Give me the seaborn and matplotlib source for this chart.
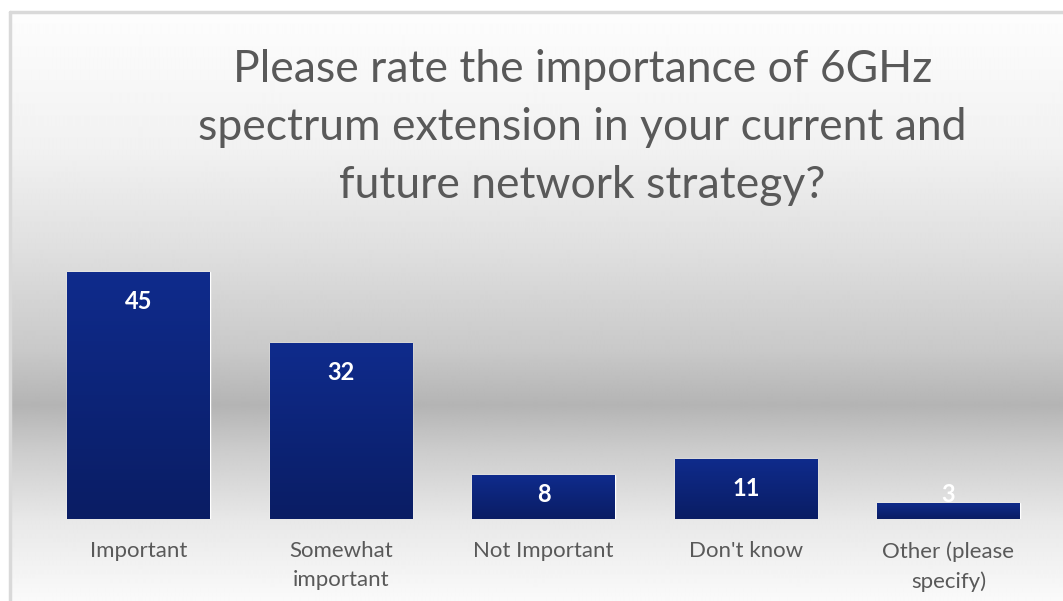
import numpy as np
import matplotlib
matplotlib.use("Agg")
import matplotlib.pyplot as plt
import seaborn as sns
import pandas as pd
from matplotlib.colors import LinearSegmentedColormap

# data
categories = ["Important", "Somewhat\nimportant", "Not Important",
              "Don't know", "Other (please\nspecify)"]
responses = [45, 32, 8, 11, 3]
title_lines = ["Please rate the importance of 6GHz",
               "spectrum extension in your current and",
               "future network strategy?"]

W, H = 1063, 601
TXT = "#595959"

sns.set_theme(style="white")
plt.rcParams["font.family"] = ["Lato", "DejaVu Sans"]

fig = plt.figure(figsize=(W / 100, H / 100), dpi=100)
fig.patch.set_facecolor("white")

# ── background: grey band gradient inside a thin frame ─────────
bg = fig.add_axes([0, 0, 1, 1], zorder=-5)
bg.set_xlim(0, W)
bg.set_ylim(H, 0)
bg.axis("off")
ys = [12, 150, 250, 350, 405, 450, 520, 601]
gs = [253, 241, 223, 201, 180, 204, 232, 250]
rows = np.interp(np.arange(12, H), ys, gs) / 255.0
grad = np.repeat(rows[:, None], 4, axis=1)
bg.imshow(grad, cmap="gray", vmin=0, vmax=1, aspect="auto",
          extent=[10, W, H, 12], interpolation="bilinear")
bg.plot([10, W], [12, 12], color="#d9d9d9", lw=2.5)
bg.plot([10, 10], [12, H], color="#d9d9d9", lw=2.5)

# title, one line at a time (baselines as in the original)
for k, line in enumerate(title_lines):
    bg.text(582.5, 82 + 58 * k, line, ha="center", va="baseline",
            fontsize=32, color=TXT)

# ── bars ───────────────────────────────────────────────────────
df = pd.DataFrame({"cat": categories, "n": responses})
x0, x1 = 37.25, 1049.75
ybase, ytop = 519, 244.5
ax = fig.add_axes([x0 / W, (H - ybase) / H, (x1 - x0) / W, (ybase - ytop) / H])
ax.patch.set_alpha(0)
sns.barplot(data=df, x="cat", y="n", color="#0d2680", width=0.706,
            saturation=1, ax=ax)

bar_cmap = LinearSegmentedColormap.from_list("bar", ["#0a1d64", "#0f2b8c"])
for p in ax.patches:
    bx, bw, bh = p.get_x(), p.get_width(), p.get_height()
    im = ax.imshow(np.linspace(0, 1, 64)[:, None], cmap=bar_cmap,
                   aspect="auto", origin="lower",
                   extent=[bx, bx + bw, 0, bh], zorder=p.get_zorder() + 0.1)
    im.set_clip_path(p)

ax.set_xlim(-0.5, len(categories) - 0.5)
ax.set_ylim(0, 50)

# data labels: inside end, but kept clear of the baseline
for i, v in enumerate(responses):
    ly = max(v - 5.4, 4.4)
    ax.text(i, ly, str(v), ha="center", va="center", color="white",
            fontsize=17, fontweight="bold", zorder=5)

ax.set_xlabel("")
ax.set_ylabel("")
ax.set_yticks([])
ax.tick_params(axis="x", length=0, pad=16, labelsize=16, labelcolor=TXT)
for lab in ax.get_xticklabels():
    lab.set_linespacing(1.55)
    lab.set_verticalalignment("top")
sns.despine(ax=ax, left=True, bottom=True)

fig.savefig("out.png", dpi=100)
